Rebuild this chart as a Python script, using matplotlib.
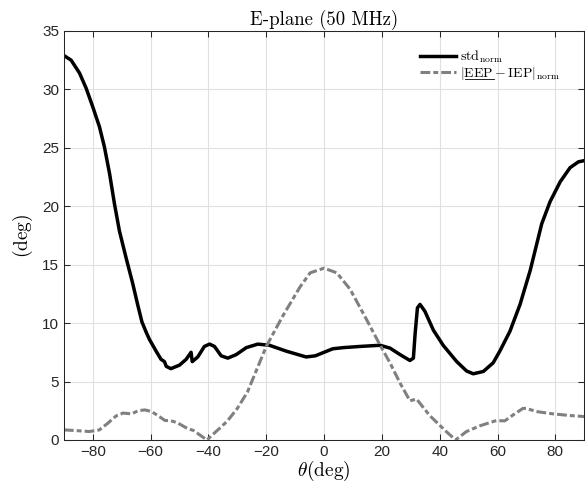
import matplotlib
matplotlib.use('Agg')
import matplotlib.pyplot as plt
from matplotlib.lines import Line2D

plt.rcParams['mathtext.fontset'] = 'cm'
plt.rcParams['font.family'] = ['Liberation Sans', 'DejaVu Sans']

# std_norm (black)
theta_std = [-90, -87.5, -84.6, -82.3, -80, -77.7, -76, -74.2, -72.5, -70.8,
             -68.5, -66.2, -64.5, -63, -61.5, -60.4, -58.1, -56.4, -55.2, -54.6,
             -53, -50, -47.7, -46, -45.6, -43.7, -41.4, -39.6, -37.9, -35.6,
             -33.3, -30.4, -26.9, -22.9, -18.9, -13.1, -6.2, -3, 0, 3,
             6.7, 12.4, 19.4, 22.8, 26.3, 29.7, 30.9, 31.5, 32.3, 33.2,
             34.9, 37.8, 41.2, 45.9, 49.3, 51.6, 55.1, 58.5, 60.8, 64.3,
             67.8, 71.3, 73.0, 75.3, 78.2, 81.7, 85.1, 88, 90]
std_norm = [32.9, 32.5, 31.4, 30.1, 28.5, 26.8, 25.1, 22.8, 20.2, 17.9,
            15.6, 13.4, 11.6, 10.1, 9.2, 8.6, 7.6, 6.9, 6.7, 6.3,
            6.1, 6.4, 6.9, 7.5, 6.7, 7.1, 8.0, 8.2, 8.0, 7.2,
            7.0, 7.3, 7.9, 8.2, 8.1, 7.6, 7.1, 7.2, 7.5, 7.8,
            7.9, 8.0, 8.1, 7.86, 7.3, 6.8, 7.0, 9.1, 11.3, 11.6,
            11.0, 9.4, 8.1, 6.7, 5.9, 5.66, 5.86, 6.6, 7.6, 9.3,
            11.6, 14.5, 16.2, 18.5, 20.4, 22.1, 23.3, 23.8, 23.9]

# |EEP - IEP|_norm (gray)
theta_diff = [-90, -85.8, -81.2, -77.7, -74.8, -71.9, -69.5, -66.6, -64.3, -62,
              -59.7, -57.3, -55, -53.3, -50.9, -47.4, -45.1, -42.2, -40.5, -37,
              -33.5, -30, -26.5, -23.5, -20, -14.3, -8.3, -4.8, 0, 4.4,
              9, 14.7, 19.4, 22.8, 26.3, 29.7, 32, 36.5, 42.3, 45.5,
              49.2, 53.8, 59.6, 62.5, 65.4, 68.8, 70, 73.4, 79.2, 85, 90]
diff_norm = [0.86, 0.8, 0.72, 0.86, 1.43, 2.06, 2.3, 2.23, 2.5, 2.57,
             2.43, 2.06, 1.66, 1.66, 1.49, 1.0, 0.8, 0.29, 0.0, 0.8,
             1.6, 2.7, 4.1, 5.9, 8.0, 10.6, 13.1, 14.3, 14.7, 14.3,
             12.9, 10.3, 8.1, 6.6, 4.86, 3.35, 3.5, 2.1, 0.71, 0.0,
             0.71, 1.2, 1.66, 1.63, 2.14, 2.7, 2.7, 2.43, 2.23, 2.09, 2.0]

fig = plt.figure(figsize=(5.86, 4.91), dpi=100)
ax = fig.add_axes([0.109, 0.104, 0.888, 0.833])

axis_col = '#262626'

ax.plot(theta_std, std_norm, color='black', linewidth=2.5,
        label=r'$\mathrm{std}_{\mathrm{norm}}$')
ax.plot(theta_diff, diff_norm, color='#808080', linewidth=2.2,
        dashes=(3.2, 1.0, 1.6, 1.0),
        label=r'$|\mathrm{EEP} - \mathrm{IEP}|_{\mathrm{norm}}$')

ax.set_xlim(-90, 90)
ax.set_ylim(0, 35)
ax.set_xticks(range(-80, 81, 20))
ax.set_yticks(range(0, 36, 5))

ax.grid(True, color='#e0e0e0', linewidth=0.8)
ax.set_axisbelow(True)
ax.tick_params(direction='in', top=True, right=True, length=4,
               width=0.75, color=axis_col, labelcolor=axis_col, labelsize=11)
for s in ax.spines.values():
    s.set_color(axis_col)
    s.set_linewidth(0.75)

ax.set_title('E-plane (50 MHz)', fontfamily='cmr10', fontsize=13.5, pad=4)
ax.set_xlabel(r'$\theta(\mathrm{deg})$', fontsize=14, labelpad=0)
ax.set_ylabel(r'$(\mathrm{deg})$', fontsize=14, labelpad=5)

leg = ax.legend(loc='upper right', frameon=False, fontsize=10,
                handlelength=2.6, bbox_to_anchor=(0.965, 0.97),
                borderaxespad=0, labelspacing=0.0, handletextpad=0.3)

# mathtext has no \underline, so draw the bar under "EEP" by hand
fig.canvas.draw()
r = fig.canvas.get_renderer()
txt = leg.get_texts()[1]
bb = txt.get_window_extent(r)
prop = txt.get_fontproperties()
_, _, desc = r.get_text_width_height_descent(txt.get_text(), prop, ismath=True)
w_bar, _, _ = r.get_text_width_height_descent(r'$|$', prop, ismath=True)
w_eep, _, _ = r.get_text_width_height_descent(r'$|\mathrm{EEP}$', prop, ismath=True)
base = bb.y0 + desc - 2
x0, x1 = bb.x0 + w_bar, bb.x0 + w_eep
inv = fig.transFigure.inverted()
(fx0, fy), (fx1, _) = inv.transform([(x0, base), (x1, base)])
fig.add_artist(Line2D([fx0, fx1], [fy, fy], color='black', linewidth=0.6,
                      transform=fig.transFigure))

fig.savefig('out.png', dpi=100)
